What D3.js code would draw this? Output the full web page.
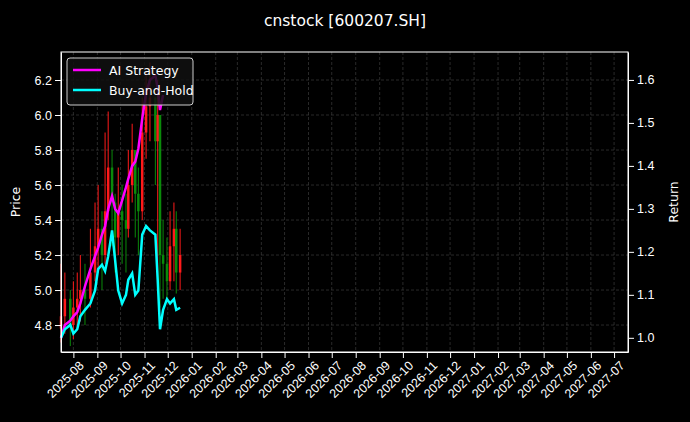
<!DOCTYPE html>
<html><head><meta charset="utf-8">
<script src="https://cdn.jsdelivr.net/npm/d3@7"></script>
<style>body{margin:0;background:#000}svg{font-family:"DejaVu Sans",sans-serif}</style>
</head><body><svg id="chart" width="690" height="422"></svg>
<script>
const dates = ["2025-07-16","2025-07-21","2025-07-28","2025-08-01","2025-08-06","2025-08-10","2025-08-16","2025-08-23","2025-08-29","2025-09-02","2025-09-07","2025-09-11","2025-09-15","2025-09-20","2025-09-24","2025-09-28","2025-10-03","2025-10-08","2025-10-11","2025-10-16","2025-10-20","2025-10-24","2025-10-29","2025-11-03","2025-11-08","2025-11-15","2025-11-18","2025-11-21","2025-11-25","2025-11-30","2025-12-04","2025-12-09","2025-12-12","2025-12-17"];
const close = [4.85,4.95,4.80,4.90,4.95,5.00,4.95,5.10,5.25,5.35,5.20,5.45,5.70,5.50,5.30,5.45,5.40,5.35,5.60,5.80,5.55,5.45,5.90,6.05,6.10,5.85,6.00,5.20,5.15,5.05,5.25,5.35,5.10,5.20];
const high = [5.15,5.10,5.00,5.05,5.10,5.20,5.15,5.35,5.50,5.60,5.45,5.90,6.02,5.80,5.55,5.70,5.60,5.55,5.80,5.95,5.75,5.70,6.10,6.25,6.30,6.10,6.20,5.80,5.40,5.30,5.45,5.50,5.45,5.35];
const low = [4.70,4.75,4.68,4.72,4.78,4.82,4.80,4.90,5.05,5.10,5.00,5.15,5.40,5.25,5.10,5.20,5.15,5.10,5.30,5.50,5.30,5.20,5.40,5.75,5.85,5.60,5.00,4.90,4.95,4.95,5.00,5.05,4.98,5.00];
const open = [4.78].concat(close.slice(0, -1));
const strategy = [1.0,1.03,1.04,1.05,1.06,1.08,1.12,1.16,1.19,1.21,1.24,1.26,1.30,1.33,1.30,1.29,1.32,1.35,1.37,1.40,1.41,1.44,1.51,1.57,1.60,1.61,1.58,1.53,1.565];
const buyHold = [1.00,1.02,1.03,1.01,1.02,1.05,1.065,1.08,1.11,1.16,1.17,1.155,1.19,1.25,1.18,1.11,1.08,1.10,1.135,1.15,1.10,1.11,1.24,1.26,1.25,1.24,1.135,1.02,1.065,1.09,1.08,1.09,1.065,1.07];
const priceTicks = [4.8,5.0,5.2,5.4,5.6,5.8,6.0,6.2];
const returnTicks = [1.0,1.1,1.2,1.3,1.4,1.5,1.6];

const parse = d3.timeParse("%Y-%m-%d");
const dt = dates.map(parse);
const svg = d3.select("#chart");
const m = {l: 61, r: 628, t: 52, b: 352};
svg.append("rect").attr("width", 690).attr("height", 422).attr("fill", "#000");

const x = d3.scaleTime().domain([parse("2025-07-16"), parse("2027-07-19")]).range([m.l, m.r]);
const yP = d3.scaleLinear().domain([4.646, 6.36]).range([m.b, m.t]);
const yR = d3.scaleLinear().domain([0.967, 1.665]).range([m.b, m.t]);
const monthTicks = d3.timeMonth.range(parse("2025-08-01"), parse("2027-07-02"));

const grid = svg.append("g").attr("stroke", "#444").attr("stroke-dasharray", "3,2").attr("stroke-width", 0.6);
monthTicks.forEach(d => grid.append("line").attr("x1", x(d)).attr("x2", x(d)).attr("y1", m.t).attr("y2", m.b));
priceTicks.forEach(v => grid.append("line").attr("x1", m.l).attr("x2", m.r).attr("y1", yP(v)).attr("y2", yP(v)));

const candles = svg.append("g");
dt.forEach((d, i) => {
  const c = close[i] >= open[i] ? "#ff1a1a" : "#0a8a0a";
  candles.append("line").attr("x1", x(d)).attr("x2", x(d)).attr("y1", yP(high[i])).attr("y2", yP(low[i])).attr("stroke", c).attr("stroke-width", 1);
  candles.append("line").attr("x1", x(d)).attr("x2", x(d)).attr("y1", yP(open[i])).attr("y2", yP(close[i])).attr("stroke", c).attr("stroke-width", 2.5);
});

const lineR = d3.line().x((v, i) => x(dt[i])).y(v => yR(v));
svg.append("path").attr("d", lineR(strategy)).attr("fill", "none").attr("stroke", "#ff00ff").attr("stroke-width", 2.5);
svg.append("path").attr("d", lineR(buyHold)).attr("fill", "none").attr("stroke", "#00ffff").attr("stroke-width", 2.5);

const styleAxis = g => { g.selectAll("path,line").attr("stroke", "#fff"); g.selectAll("text").attr("fill", "#fff").attr("font-size", 12.5); };
svg.append("g").attr("transform", `translate(0,${m.b})`)
  .call(d3.axisBottom(x).tickValues(monthTicks).tickFormat(d3.timeFormat("%Y-%m")).tickSizeOuter(0))
  .call(styleAxis)
  .selectAll("text").attr("text-anchor", "end").attr("dx", "-0.2em").attr("dy", "0.7em").attr("transform", "rotate(-45)");
svg.append("g").attr("transform", `translate(${m.l},0)`)
  .call(d3.axisLeft(yP).tickValues(priceTicks).tickFormat(d3.format(".1f")).tickSizeOuter(0)).call(styleAxis);
svg.append("g").attr("transform", `translate(${m.r},0)`)
  .call(d3.axisRight(yR).tickValues(returnTicks).tickFormat(d3.format(".1f")).tickSizeOuter(0)).call(styleAxis);
svg.append("rect").attr("x", m.l).attr("y", m.t).attr("width", m.r - m.l).attr("height", m.b - m.t).attr("fill", "none").attr("stroke", "#fff");

svg.append("text").attr("x", 345).attr("y", 26).attr("text-anchor", "middle").attr("fill", "#fff").attr("font-size", 15.5).text("cnstock [600207.SH]");
svg.append("text").attr("transform", "translate(20,202) rotate(-90)").attr("text-anchor", "middle").attr("fill", "#fff").attr("font-size", 12.5).text("Price");
svg.append("text").attr("transform", "translate(678,202) rotate(-90)").attr("text-anchor", "middle").attr("fill", "#fff").attr("font-size", 12.5).text("Return");

const lg = svg.append("g").attr("transform", "translate(67,58)");
lg.append("rect").attr("width", 126).attr("height", 47).attr("rx", 3).attr("fill", "#111").attr("fill-opacity", 0.85).attr("stroke", "#ccc");
[["AI Strategy", "#ff00ff"], ["Buy-and-Hold", "#00ffff"]].forEach(([t, c], i) => {
  lg.append("line").attr("x1", 6).attr("x2", 34).attr("y1", 12 + i * 20).attr("y2", 12 + i * 20).attr("stroke", c).attr("stroke-width", 2.5);
  lg.append("text").attr("x", 42).attr("y", 16.5 + i * 20).attr("fill", "#fff").attr("font-size", 12.5).text(t);
});
</script></body></html>
